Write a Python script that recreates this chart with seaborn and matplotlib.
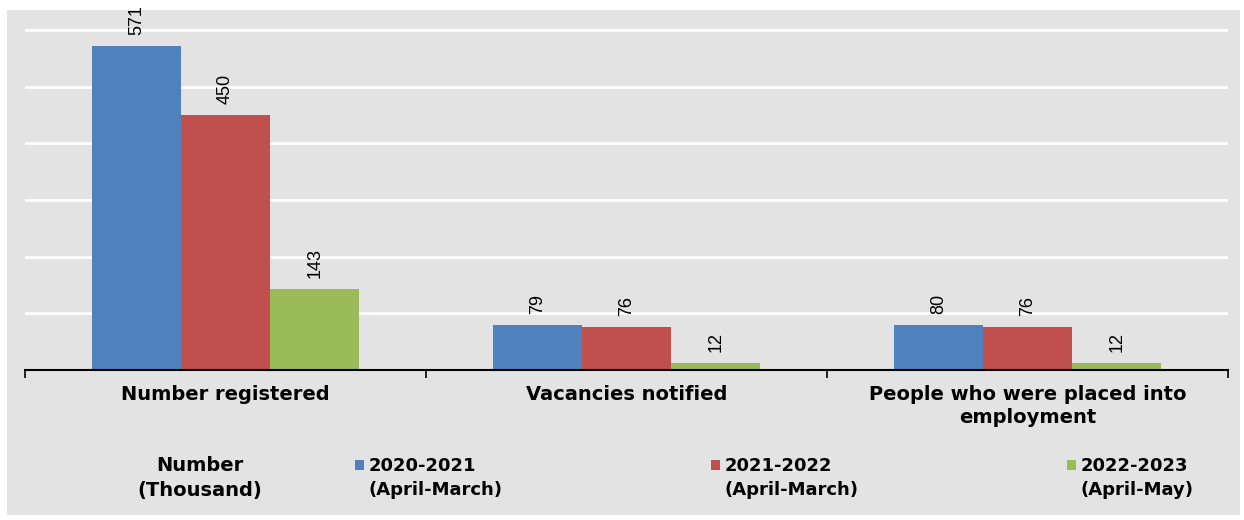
import pandas as pd
import seaborn as sns
import matplotlib.pyplot as plt
from matplotlib.patches import Rectangle
from matplotlib.legend_handler import HandlerPatch

# values in thousand
categories = ['Number registered', 'Vacancies notified',
              'People who were placed into\nemployment']
periods = ['2020-2021\n(April-March)', '2021-2022\n(April-March)',
           '2022-2023\n(April-May)']
v_2020 = [571, 79, 80]
v_2021 = [450, 76, 76]
v_2022 = [143, 12, 12]

colors = ['#4F81BD', '#C0504D', '#9BBB59']
grey = '#e3e3e3'

rows = []
for per, vals in zip(periods, [v_2020, v_2021, v_2022]):
    for cat, v in zip(categories, vals):
        rows.append({'category': cat, 'period': per, 'value': v})
df = pd.DataFrame(rows)

sns.set_style('white')
plt.rcParams['font.family'] = ['Liberation Sans', 'DejaVu Sans']
plt.rcParams['text.color'] = 'black'
plt.rcParams['xtick.color'] = 'black'

fig = plt.figure(figsize=(12.44, 5.2), dpi=100)
fig.patch.set_facecolor('white')
fig.patches.append(Rectangle((7/1244, 5/520), 1233/1244, 505/520,
                             transform=fig.transFigure, facecolor=grey,
                             edgecolor='none', zorder=-10))
ax = fig.add_axes([25/1244, 1 - 370/520, 1203/1244, 357/520])
ax.set_facecolor(grey)

sns.barplot(data=df, x='category', y='value', hue='period',
            palette=colors, width=0.667, saturation=1, linewidth=0, ax=ax)

for c in ax.containers:
    ax.bar_label(c, fmt='%d', rotation=90, padding=8, fontsize=13, color='black')

ax.set_ylim(0, 630)
ax.set_xlim(-0.5, 2.5)
ax.set_yticks([100, 200, 300, 400, 500, 600])
ax.yaxis.grid(True, color='white', linewidth=2)
ax.set_axisbelow(True)
ax.tick_params(axis='y', left=False, labelleft=False)
ax.set_xticks([-0.5, 0.5, 1.5, 2.5], minor=True)
ax.tick_params(axis='x', which='minor', bottom=True, length=6, width=1.2,
               color='black', direction='out')
ax.tick_params(axis='x', which='major', bottom=False, length=0, pad=11)
for lab in ax.get_xticklabels():
    lab.set_fontweight('bold')
    lab.set_fontsize(14)
    lab.set_family('DejaVu Sans')
    lab.set_linespacing(1.25)
ax.set_xlabel('')
ax.set_ylabel('')
for s in ['top', 'left', 'right']:
    ax.spines[s].set_visible(False)
ax.spines['bottom'].set_color('black')
ax.spines['bottom'].set_linewidth(1.5)


# legend squares sit next to the first line of each label
def top_square(legend, orig_handle, xdescent, ydescent, width, height, fontsize):
    return Rectangle((-xdescent, -ydescent + 0.75 * fontsize), width, height)


handles, labels = ax.get_legend_handles_labels()
ax.get_legend().remove()
leg = fig.legend(handles, labels, ncol=3, loc='center left', bbox_to_anchor=(355/1244, 1 - 478/520),
                 frameon=False, borderpad=0, borderaxespad=0,
                 handlelength=0.5, handleheight=0.5, handletextpad=0.25,
                 columnspacing=11.55, prop={'weight': 'bold', 'size': 13, 'family': 'DejaVu Sans'},
                 handler_map={h: HandlerPatch(patch_func=top_square) for h in handles})
for t in leg.get_texts():
    t.set_linespacing(1.45)
fig.text(200/1244, 1 - 478/520, 'Number\n(Thousand)', ha='center', va='center',
         fontweight='bold', fontsize=14, family='DejaVu Sans', linespacing=1.35)

fig.savefig('out.png', dpi=100, facecolor='white')
